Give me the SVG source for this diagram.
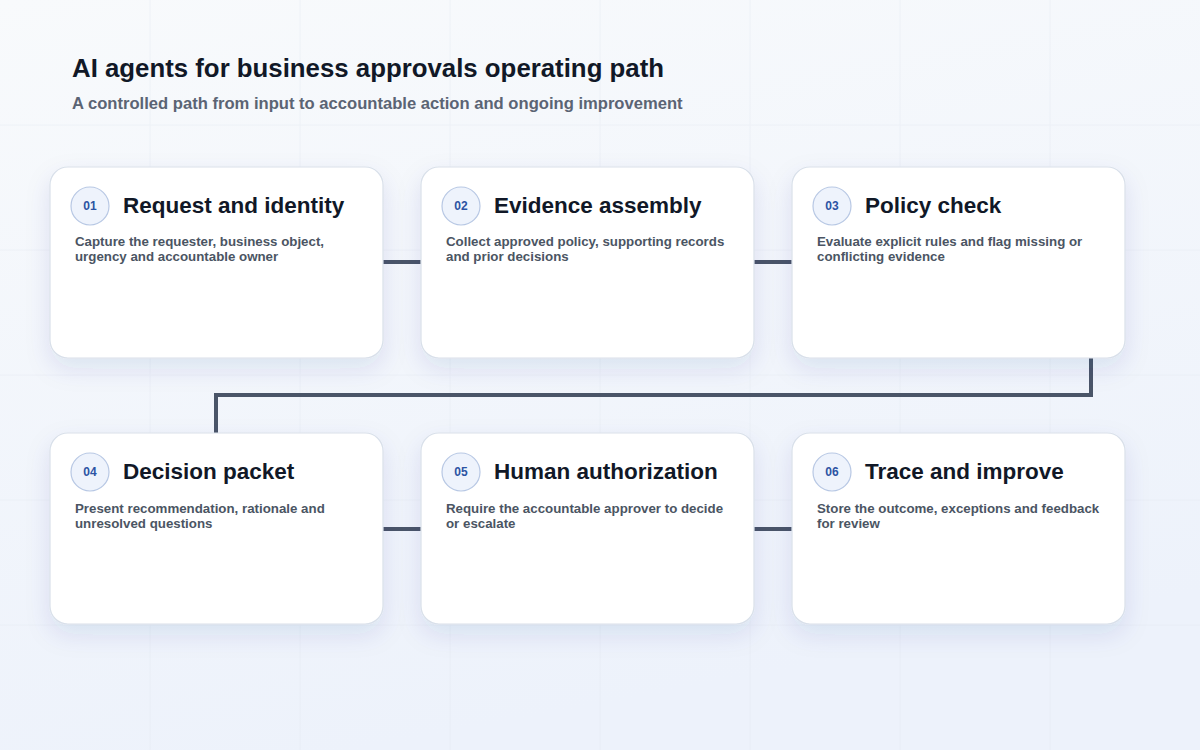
<svg xmlns="http://www.w3.org/2000/svg" width="1200" height="750" viewBox="0 0 1200 750">
<defs>
<linearGradient id="bg" x1="0" y1="0" x2="0.3" y2="1">
<stop offset="0" stop-color="#f8fafc"/>
<stop offset="1" stop-color="#edf2fb"/>
</linearGradient>
<filter id="sh" x="-20%" y="-20%" width="140%" height="150%">
<feDropShadow dx="0" dy="10" stdDeviation="12" flood-color="#1e3a8a" flood-opacity="0.10"/>
</filter>
<style>
.card{fill:#ffffff;stroke:#d9e0ea;stroke-width:1.2;filter:url(#sh)}
.badge{fill:#eef3fc;stroke:#b8c8e4;stroke-width:1.2}
.num{font-family:"Liberation Sans",Arial,sans-serif;font-size:12px;font-weight:700;fill:#2c54a3;text-anchor:middle}
.ttl{font-family:"Liberation Sans",Arial,sans-serif;font-size:22.5px;font-weight:700;fill:#111827}
.dsc{font-family:"Liberation Sans",Arial,sans-serif;font-size:13.3px;font-weight:700;fill:#4b5563}
.con{fill:none;stroke:#4a5568;stroke-width:4}
.grid{stroke:#e3e8f0;stroke-width:1}
</style>
</defs>
<rect width="1200" height="750" fill="url(#bg)"/>
<g class="grid" opacity="0.45">
<line x1="150" y1="0" x2="150" y2="750"/><line x1="300" y1="0" x2="300" y2="750"/><line x1="450" y1="0" x2="450" y2="750"/><line x1="600" y1="0" x2="600" y2="750"/><line x1="750" y1="0" x2="750" y2="750"/><line x1="900" y1="0" x2="900" y2="750"/><line x1="1050" y1="0" x2="1050" y2="750"/>
<line x1="0" y1="125" x2="1200" y2="125"/><line x1="0" y1="250" x2="1200" y2="250"/><line x1="0" y1="375" x2="1200" y2="375"/><line x1="0" y1="500" x2="1200" y2="500"/><line x1="0" y1="625" x2="1200" y2="625"/>
</g>
<text x="72" y="77" font-family="Liberation Sans,Arial,sans-serif" font-size="25.8" font-weight="700" fill="#111827">AI agents for business approvals operating path</text>
<text x="72" y="109" font-family="Liberation Sans,Arial,sans-serif" font-size="16.6" font-weight="700" fill="#5b6474">A controlled path from input to accountable action and ongoing improvement</text>
<g id="connectors">
<line class="con" x1="383" y1="262" x2="421" y2="262"/>
<line class="con" x1="754" y1="262" x2="792" y2="262"/>
<path class="con" d="M1091 358 V395 H216 V433"/>
<line class="con" x1="383" y1="529" x2="421" y2="529"/>
<line class="con" x1="754" y1="529" x2="792" y2="529"/>
</g>
<g id="node1">
<rect class="card" x="50" y="167" width="333" height="191" rx="18"/>
<circle class="badge" cx="90" cy="206" r="19"/>
<text class="num" x="90" y="210">01</text>
<text class="ttl" x="123" y="213">Request and identity</text>
<text class="dsc" x="75" y="246">Capture the requester, business object,</text>
<text class="dsc" x="75" y="261">urgency and accountable owner</text>
</g>
<g id="node2">
<rect class="card" x="421" y="167" width="333" height="191" rx="18"/>
<circle class="badge" cx="461" cy="206" r="19"/>
<text class="num" x="461" y="210">02</text>
<text class="ttl" x="494" y="213">Evidence assembly</text>
<text class="dsc" x="446" y="246">Collect approved policy, supporting records</text>
<text class="dsc" x="446" y="261">and prior decisions</text>
</g>
<g id="node3">
<rect class="card" x="792" y="167" width="333" height="191" rx="18"/>
<circle class="badge" cx="832" cy="206" r="19"/>
<text class="num" x="832" y="210">03</text>
<text class="ttl" x="865" y="213">Policy check</text>
<text class="dsc" x="817" y="246">Evaluate explicit rules and flag missing or</text>
<text class="dsc" x="817" y="261">conflicting evidence</text>
</g>
<g id="node4">
<rect class="card" x="50" y="433" width="333" height="191" rx="18"/>
<circle class="badge" cx="90" cy="472" r="19"/>
<text class="num" x="90" y="476">04</text>
<text class="ttl" x="123" y="479">Decision packet</text>
<text class="dsc" x="75" y="513">Present recommendation, rationale and</text>
<text class="dsc" x="75" y="528">unresolved questions</text>
</g>
<g id="node5">
<rect class="card" x="421" y="433" width="333" height="191" rx="18"/>
<circle class="badge" cx="461" cy="472" r="19"/>
<text class="num" x="461" y="476">05</text>
<text class="ttl" x="494" y="479">Human authorization</text>
<text class="dsc" x="446" y="513">Require the accountable approver to decide</text>
<text class="dsc" x="446" y="528">or escalate</text>
</g>
<g id="node6">
<rect class="card" x="792" y="433" width="333" height="191" rx="18"/>
<circle class="badge" cx="832" cy="472" r="19"/>
<text class="num" x="832" y="476">06</text>
<text class="ttl" x="865" y="479">Trace and improve</text>
<text class="dsc" x="817" y="513">Store the outcome, exceptions and feedback</text>
<text class="dsc" x="817" y="528">for review</text>
</g>
</svg>
